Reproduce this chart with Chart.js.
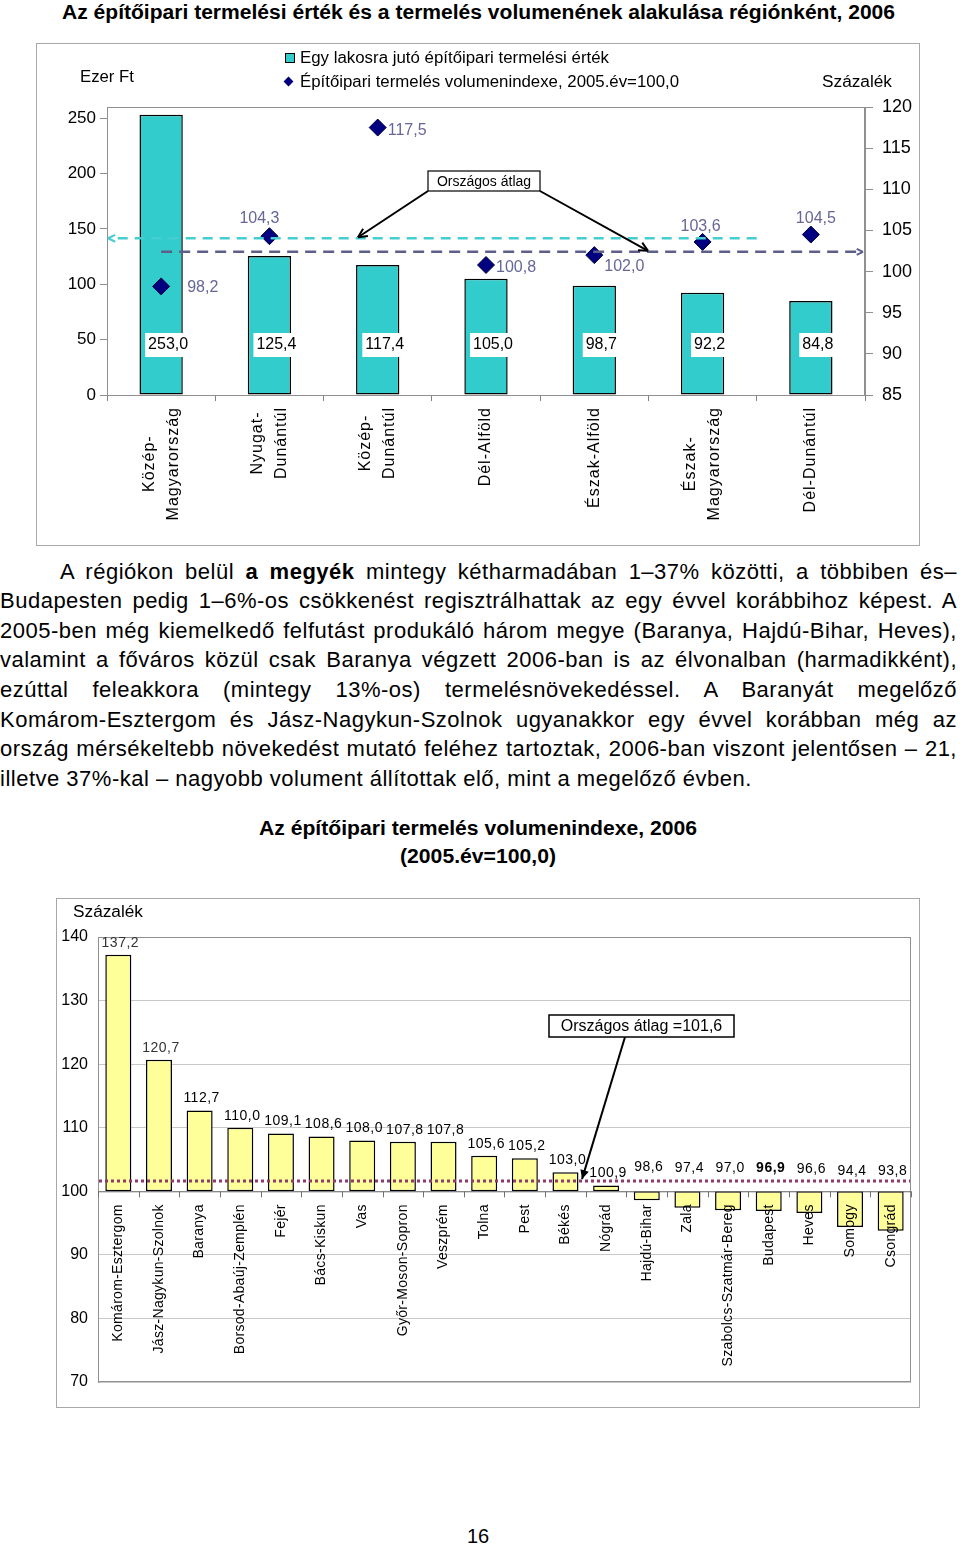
<!DOCTYPE html>
<html><head><meta charset="utf-8">
<script src="https://cdn.jsdelivr.net/npm/chart.js@4.4.1/dist/chart.umd.min.js"></script>
<style>
body{margin:0;background:#fff;font-family:"Liberation Sans",Arial,sans-serif;color:#000;}
#page{position:relative;width:960px;height:1547px;overflow:hidden;background:#fff;}
.a{position:absolute;white-space:nowrap;display:inline-block;transform-origin:left top;}
.frame{position:absolute;border:1px solid #a8a8a8;box-sizing:border-box;}
canvas{position:absolute;}
.pl{position:absolute;white-space:nowrap;display:inline-block;font-size:22px;line-height:26px;letter-spacing:0.5px;}
</style></head><body>
<div id="page">
  <div class="a fit" data-w="833" style="left:62px;top:0px;font-size:20px;line-height:24px;font-weight:bold;">Az építőipari termelési érték és a termelés volumenének alakulása régiónként, 2006</div>

  <div class="frame" style="left:36px;top:43px;width:884px;height:503px;"></div>
  <canvas id="c1" width="884" height="502" style="left:36px;top:43px;"></canvas>
  <div style="position:absolute;left:285px;top:53px;width:8px;height:8px;background:#33CCCC;border:1px solid #000;"></div>
  <div class="a fit" data-w="309" style="left:300px;top:48px;font-size:16px;line-height:19px;">Egy lakosra jutó építőipari termelési érték</div>
  <div style="position:absolute;left:285px;top:78px;width:7px;height:7px;background:#000080;transform:rotate(45deg);"></div>
  <div class="a fit" data-w="379" style="left:300px;top:72px;font-size:16px;line-height:19px;">Építőipari termelés volumenindexe, 2005.év=100,0</div>
  <div class="a fit" data-w="54" style="left:80px;top:67px;font-size:16px;line-height:19px;">Ezer Ft</div>
  <div class="a fit" data-w="70" style="left:822px;top:72px;font-size:16px;line-height:19px;">Százalék</div>

  <div class="pl jl" data-w="897" style="left:60px;top:559px;">A régiókon belül <b>a megyék</b> mintegy kétharmadában 1–37% közötti, a többiben és–</div>
  <div class="pl jl" data-w="957" style="left:0px;top:588px;">Budapesten pedig 1–6%-os csökkenést regisztrálhattak az egy évvel korábbihoz képest. A</div>
  <div class="pl jl" data-w="957" style="left:0px;top:618px;">2005-ben még kiemelkedő felfutást produkáló három megye (Baranya, Hajdú-Bihar, Heves),</div>
  <div class="pl jl" data-w="957" style="left:0px;top:647px;">valamint a főváros közül csak Baranya végzett 2006-ban is az élvonalban (harmadikként),</div>
  <div class="pl jl" data-w="957" style="left:0px;top:677px;">ezúttal feleakkora (mintegy 13%-os) termelésnövekedéssel. A Baranyát megelőző</div>
  <div class="pl jl" data-w="957" style="left:0px;top:707px;">Komárom-Esztergom és Jász-Nagykun-Szolnok ugyanakkor egy évvel korábban még az</div>
  <div class="pl jl" data-w="957" style="left:0px;top:736px;">ország mérsékeltebb növekedést mutató feléhez tartoztak, 2006-ban viszont jelentősen – 21,</div>
  <div class="pl" style="left:0px;top:766px;">illetve 37%-kal – nagyobb volument állítottak elő, mint a megelőző évben.</div>

  <div class="a fit" data-w="438" data-cx="478" style="left:259px;top:816px;font-size:20px;line-height:24px;font-weight:bold;">Az építőipari termelés volumenindexe, 2006</div>
  <div class="a fit" data-w="156" data-cx="478" style="left:400px;top:844px;font-size:20px;line-height:24px;font-weight:bold;">(2005.év=100,0)</div>

  <div class="frame" style="left:56px;top:898px;width:864px;height:510px;"></div>
  <canvas id="c2" width="864" height="509" style="left:56px;top:898px;"></canvas>
  <div class="a fit" data-w="70" style="left:73px;top:902px;font-size:16px;line-height:19px;">Százalék</div>

  <div class="a" style="left:467px;top:1524px;font-size:20px;line-height:24px;">16</div>
</div>

<script>
// ---------- Data: top chart ----------
const regions = [['Közép-','Magyarország'],['Nyugat-','Dunántúl'],['Közép-','Dunántúl'],['Dél-Alföld'],['Észak-Alföld'],['Észak-','Magyarország'],['Dél-Dunántúl']];
const perCapita = [253.0, 125.4, 117.4, 105.0, 98.7, 92.2, 84.8];
const volumeIndex = [98.2, 104.3, 117.5, 100.8, 102.0, 103.6, 104.5];
const avgPerCapita = 141.5;      // national average, per capita (left axis)
const avgVolumeTop = 102.4;      // national average, volume index (right axis)
const leftTicks = [0, 50, 100, 150, 200, 250];
const rightTicks = [85, 90, 95, 100, 105, 110, 115, 120];

// ---------- Data: bottom chart ----------
const counties = ['Komárom-Esztergom','Jász-Nagykun-Szolnok','Baranya','Borsod-Abaúj-Zemplén','Fejér','Bács-Kiskun','Vas','Győr-Moson-Sopron','Veszprém','Tolna','Pest','Békés','Nógrád','Hajdú-Bihar','Zala','Szabolcs-Szatmár-Bereg','Budapest','Heves','Somogy','Csongrád'];
const countyIndex = [137.2, 120.7, 112.7, 110.0, 109.1, 108.6, 108.0, 107.8, 107.8, 105.6, 105.2, 103.0, 100.9, 98.6, 97.4, 97.0, 96.9, 96.6, 94.4, 93.8];
const nationalIndex = 101.6;
const bottomTicks = [70, 80, 90, 100, 110, 120, 130, 140];

const FAM = '"Liberation Sans", Arial, sans-serif';
const fmt = v => v.toFixed(1).replace('.', ',');

function arrowHead(ctx, x1, y1, x2, y2, size, fill){
  const a = Math.atan2(y2 - y1, x2 - x1);
  ctx.beginPath();
  ctx.moveTo(x2, y2);
  ctx.lineTo(x2 - size*Math.cos(a - 0.45), y2 - size*Math.sin(a - 0.45));
  if (fill) { ctx.lineTo(x2 - size*Math.cos(a + 0.45), y2 - size*Math.sin(a + 0.45)); ctx.closePath(); ctx.fill(); }
  else { ctx.moveTo(x2, y2); ctx.lineTo(x2 - size*Math.cos(a + 0.45), y2 - size*Math.sin(a + 0.45)); ctx.stroke(); }
}

// point label placement (style only)
const ptLabelPlace = [
  {dx:26, dy:1, align:'left'}, {dx:-10, dy:-18, align:'center'}, {dx:10, dy:3, align:'left'},
  {dx:10, dy:3, align:'left'}, {dx:10, dy:11, align:'left'}, {dx:-2, dy:-15, align:'center'},
  {dx:5, dy:-16, align:'center'}
];

const topPlugin = {
  id: 'topDecor',
  afterDatasetsDraw(chart){
    const ctx = chart.ctx, ca = chart.chartArea;
    const xs = chart.scales.x, yl = chart.scales.y, yr = chart.scales.y1;
    ctx.save();
    ctx.strokeStyle = '#909090'; ctx.lineWidth = 1;
    ctx.strokeRect(ca.left + 0.5, ca.top + 0.5, ca.width - 1, ca.height);
    const catW = xs.getPixelForValue(1) - xs.getPixelForValue(0);

    const yc = yl.getPixelForValue(avgPerCapita);
    const xEndC = xs.getPixelForValue(5) + catW/2;
    ctx.strokeStyle = '#45CDD0'; ctx.fillStyle = '#45CDD0'; ctx.lineWidth = 2.5;
    ctx.setLineDash([10, 7]);
    ctx.beginPath(); ctx.moveTo(xEndC, yc); ctx.lineTo(ca.left + 3, yc); ctx.stroke();
    ctx.setLineDash([]); ctx.lineWidth = 2;
    arrowHead(ctx, ca.left + 20, yc, ca.left + 1, yc, 8, false);

    const yp = yr.getPixelForValue(avgVolumeTop);
    const xStartP = xs.getPixelForValue(0);
    ctx.strokeStyle = '#5E5E8A'; ctx.lineWidth = 2.5;
    ctx.setLineDash([11, 7]);
    ctx.beginPath(); ctx.moveTo(xStartP, yp); ctx.lineTo(ca.right - 4, yp); ctx.stroke();
    ctx.setLineDash([]); ctx.lineWidth = 2;
    arrowHead(ctx, ca.right - 20, yp, ca.right - 2, yp, 7, false);

    ctx.font = '16px ' + FAM;
    ctx.textBaseline = 'middle'; ctx.textAlign = 'center';
    const bars = chart.getDatasetMeta(0).data;
    bars.forEach((b, i) => {
      const t = fmt(perCapita[i]);
      const w = ctx.measureText(t).width;
      const cx = b.x + 7, cy = ca.bottom - 50;
      ctx.fillStyle = '#fff';
      ctx.fillRect(cx - w/2 - 3, cy - 12, w + 6, 24);
      ctx.fillStyle = '#000';
      ctx.fillText(t, cx, cy);
    });

    ctx.fillStyle = '#666699';
    const pts = chart.getDatasetMeta(1).data;
    pts.forEach((p, i) => {
      const pl = ptLabelPlace[i];
      ctx.textAlign = pl.align;
      ctx.fillText(fmt(volumeIndex[i]), p.x + pl.dx, p.y + pl.dy);
    });

    const bx = 392, by = 128, bw = 112, bh = 20;
    ctx.strokeStyle = '#000'; ctx.fillStyle = '#000'; ctx.lineWidth = 2;
    ctx.beginPath(); ctx.moveTo(bx, by + bh); ctx.lineTo(322, yc - 1); ctx.stroke();
    arrowHead(ctx, bx, by + bh, 322, yc - 1, 10, false);
    ctx.beginPath(); ctx.moveTo(bx + bw, by + bh); ctx.lineTo(612, yp - 1); ctx.stroke();
    arrowHead(ctx, bx + bw, by + bh, 612, yp - 1, 10, false);
    ctx.fillStyle = '#fff'; ctx.fillRect(bx, by, bw, bh);
    ctx.lineWidth = 1.2; ctx.strokeRect(bx, by, bw, bh);
    ctx.fillStyle = '#000'; ctx.font = '14px ' + FAM; ctx.textAlign = 'center';
    ctx.fillText('Országos átlag', bx + bw/2, by + bh/2 + 1);

    ctx.font = '16px ' + FAM;
    try { ctx.letterSpacing = '1px'; } catch(e){}
    ctx.fillStyle = '#000';
    regions.forEach((lines, i) => {
      const x = xs.getPixelForValue(i);
      const widths = lines.map(l => ctx.measureText(l).width);
      const maxW = Math.max(...widths);
      const yTop = ca.bottom + 12;
      const lh = 24, n = lines.length;
      lines.forEach((l, j) => {
        const cx = x + (j - (n - 1)/2) * lh;
        ctx.save();
        ctx.translate(cx, yTop + maxW/2);
        ctx.rotate(-Math.PI/2);
        ctx.textAlign = 'center'; ctx.textBaseline = 'middle';
        ctx.fillText(l, 0, 0);
        ctx.restore();
      });
    });
    ctx.restore();
  }
};

new Chart(document.getElementById('c1'), {
  data: {
    labels: regions,
    datasets: [
      {type:'bar', data: perCapita, yAxisID:'y', backgroundColor:'#33CCCC', borderColor:'#000', borderWidth:1.5, borderSkipped:false, barPercentage:0.4, categoryPercentage:1, order:2},
      {type:'line', data: volumeIndex, yAxisID:'y1', showLine:false, pointStyle:'rectRot', pointRadius:8.5, pointBackgroundColor:'#000080', pointBorderColor:'#00003a', pointBorderWidth:1, order:1}
    ]
  },
  options: {
    responsive:false, devicePixelRatio:1, animation:false,
    layout:{padding:{top:64, left:0, right:0, bottom:0}},
    plugins:{legend:{display:false}, tooltip:{enabled:false}},
    scales:{
      x:{ ticks:{display:false}, grid:{drawOnChartArea:false, offset:true, tickLength:6, color:'#808080'}, border:{color:'#808080'}, afterFit: s => { s.height = 150; } },
      y:{ position:'left', min:0, max:260, afterBuildTicks: s => { s.ticks = leftTicks.map(v => ({value:v})); },
          ticks:{font:{size:17, family:FAM}, color:'#000', padding:4}, grid:{drawOnChartArea:false, tickLength:7, color:'#909090'}, border:{color:'#909090'}, afterFit: s => { s.width = 71; } },
      y1:{ position:'right', min:85, max:120, afterBuildTicks: s => { s.ticks = rightTicks.map(v => ({value:v})); },
          ticks:{font:{size:18, family:FAM}, color:'#000', padding:9}, grid:{drawOnChartArea:false, tickLength:8, color:'#909090'}, border:{color:'#909090'}, afterFit: s => { s.width = 55; } }
    }
  },
  plugins:[topPlugin]
});

// ---------- bottom chart ----------
const bottomPlugin = {
  id: 'bottomDecor',
  afterDatasetsDraw(chart){
    const ctx = chart.ctx, ca = chart.chartArea;
    const xs = chart.scales.x, ys = chart.scales.y;
    ctx.save();
    ctx.strokeStyle = '#909090'; ctx.lineWidth = 1;
    ctx.strokeRect(ca.left + 0.5, ca.top + 0.5, ca.width - 1, ca.height - 1);
    const y100 = ys.getPixelForValue(100);
    const catW = xs.getPixelForValue(1) - xs.getPixelForValue(0);
    ctx.strokeStyle = '#707070'; ctx.lineWidth = 1;
    ctx.beginPath(); ctx.moveTo(ca.left, y100 + 0.5); ctx.lineTo(ca.right, y100 + 0.5);
    for (let i = 0; i <= counties.length; i++) {
      const x = Math.round(ca.left + i*catW) + 0.5;
      ctx.moveTo(x, y100); ctx.lineTo(x, y100 + 6);
    }
    ctx.stroke();

    const ya = ys.getPixelForValue(nationalIndex);
    ctx.strokeStyle = '#8E3A6A'; ctx.lineWidth = 3; ctx.setLineDash([3, 3]);
    ctx.beginPath(); ctx.moveTo(ca.left + 1, ya); ctx.lineTo(ca.right - 1, ya); ctx.stroke();
    ctx.setLineDash([]);

    try { ctx.letterSpacing = '0.5px'; } catch(e){}
    ctx.textAlign = 'center'; ctx.textBaseline = 'middle';
    const bars = chart.getDatasetMeta(0).data;
    bars.forEach((b, i) => {
      const v = countyIndex[i];
      let y;
      if (v >= 100) y = ys.getPixelForValue(v) - 12;
      else y = y100 - 26 + (100 - v) * 1.0;
      ctx.fillStyle = i < 2 ? '#333' : '#000';
      ctx.font = (counties[i] === 'Budapest' ? 'bold ' : '') + '14px ' + FAM;
      ctx.fillText(fmt(v), b.x + 2, y);
    });

    ctx.font = '14px ' + FAM;
    try { ctx.letterSpacing = '0.3px'; } catch(e){}
    ctx.fillStyle = '#000';
    counties.forEach((c, i) => {
      const x = xs.getPixelForValue(i);
      ctx.save();
      ctx.translate(x, y100 + 13);
      ctx.rotate(-Math.PI/2);
      ctx.textAlign = 'right'; ctx.textBaseline = 'middle';
      ctx.fillText(c, 0, 0);
      ctx.restore();
    });
    try { ctx.letterSpacing = '0px'; } catch(e){}

    const bx = 493, by = 117, bw = 185, bh = 22;
    const tx = 526;
    ctx.strokeStyle = '#000'; ctx.fillStyle = '#000'; ctx.lineWidth = 2;
    ctx.beginPath(); ctx.moveTo(569, by + bh); ctx.lineTo(tx, ya - 2); ctx.stroke();
    arrowHead(ctx, 569, by + bh, tx, ya - 2, 10, true);
    ctx.fillStyle = '#fff'; ctx.fillRect(bx, by, bw, bh);
    ctx.lineWidth = 1.5; ctx.strokeRect(bx, by, bw, bh);
    ctx.fillStyle = '#000'; ctx.font = '16px ' + FAM; ctx.textAlign = 'center';
    ctx.fillText('Országos átlag =101,6', bx + bw/2, by + bh/2 + 1);
    ctx.restore();
  }
};

new Chart(document.getElementById('c2'), {
  type:'bar',
  data:{
    labels: counties,
    datasets:[{data: countyIndex.map(v => [100, v]), backgroundColor:'#FFFF99', borderColor:'#000', borderWidth:1.5, borderSkipped:false, barPercentage:0.64, categoryPercentage:1}]
  },
  options:{
    responsive:false, devicePixelRatio:1, animation:false,
    layout:{padding:{top:39, right:9, bottom:25, left:0}},
    plugins:{legend:{display:false}, tooltip:{enabled:false}},
    scales:{
      x:{display:false},
      y:{min:70, max:140, afterBuildTicks: s => { s.ticks = bottomTicks.map(v => ({value:v})); },
         ticks:{font:{size:16, family:FAM}, color:'#000', padding:10},
         grid:{color:'#c8c8c8', drawTicks:false}, border:{display:true, color:'#909090'},
         afterFit: s => { s.width = 42; } }
    }
  },
  plugins:[bottomPlugin]
});

function fitAll(){
  document.querySelectorAll('.fit').forEach(el => {
    el.style.transform = 'none';
    const target = +el.dataset.w;
    const w = el.getBoundingClientRect().width;
    if (el.dataset.cx) el.style.left = (+el.dataset.cx - target/2) + 'px';
    el.style.transform = 'scaleX(' + (target / w) + ')';
  });
  document.querySelectorAll('.jl').forEach(el => {
    el.style.wordSpacing = '0px';
    const target = +el.dataset.w;
    const w = el.getBoundingClientRect().width;
    const spaces = (el.textContent.match(/ /g) || []).length;
    el.style.wordSpacing = ((target - w) / spaces) + 'px';
  });
}
fitAll();
</script>
</body></html>
